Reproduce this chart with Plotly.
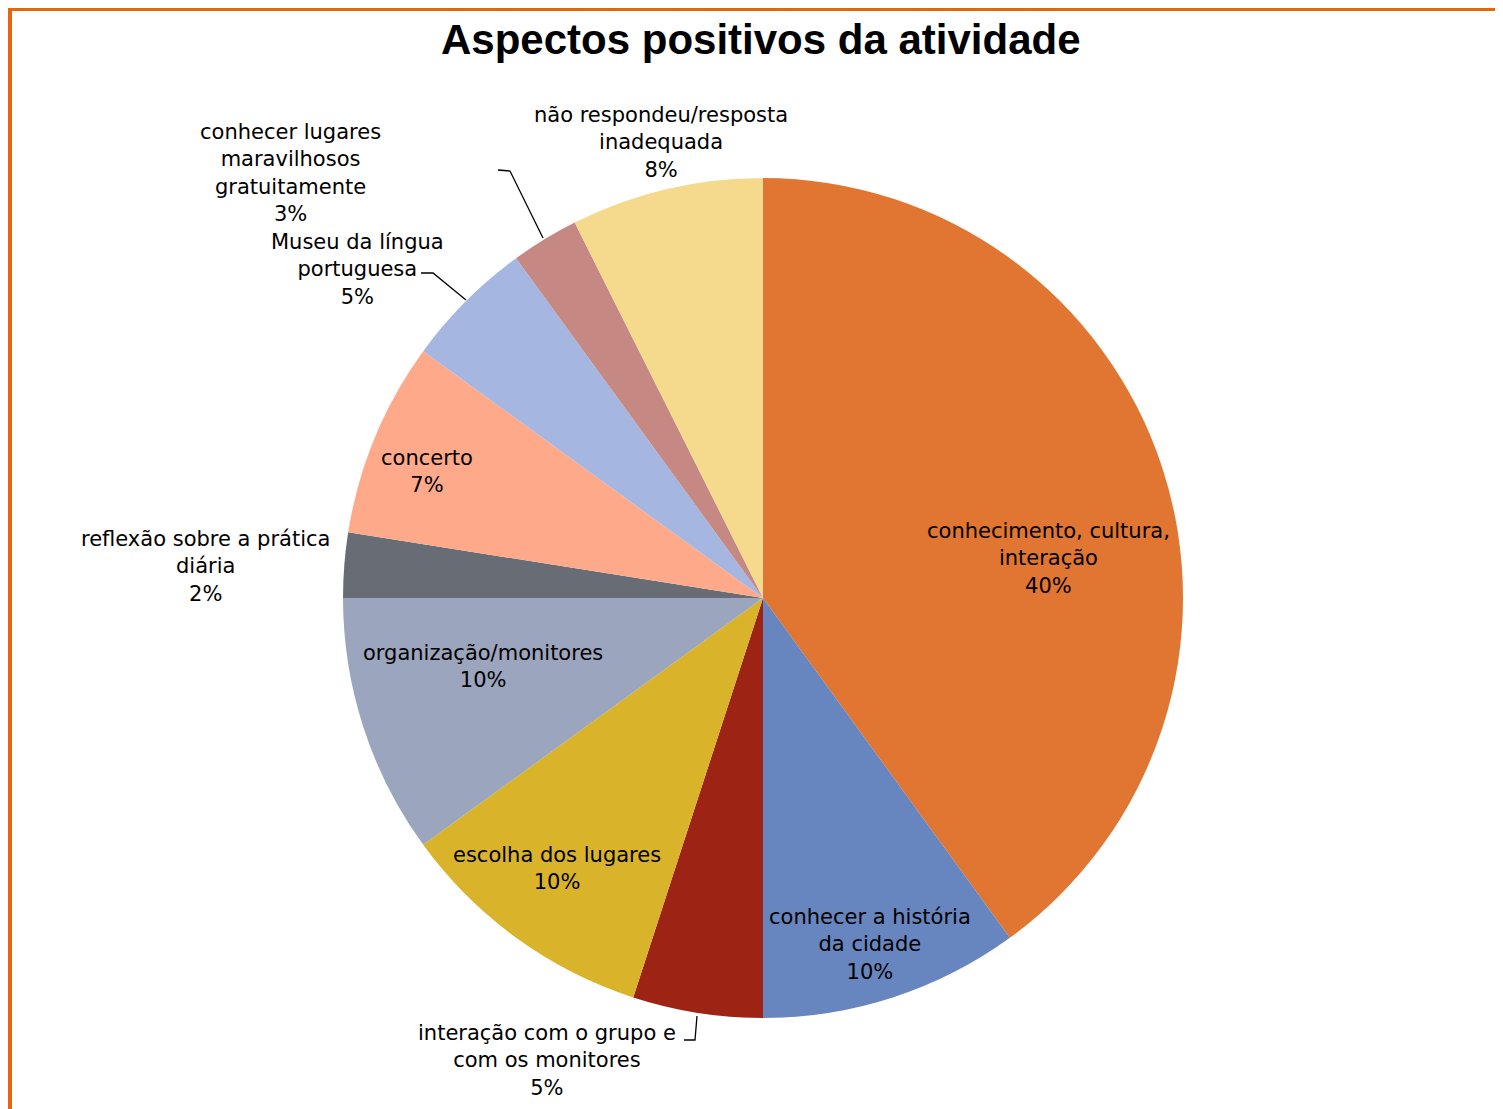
import plotly.graph_objects as go

W, H = 1503, 1109
OFF = 8  # browser body margin

# data (clockwise from 12 o'clock)
categories = [
    "conhecimento, cultura,<br>interação",
    "conhecer a história<br>da cidade",
    "interação com o grupo e<br>com os monitores",
    "escolha dos lugares",
    "organização/monitores",
    "reflexão sobre a prática<br>diária",
    "concerto",
    "Museu da língua<br>portuguesa",
    "conhecer lugares<br>maravilhosos<br>gratuitamente",
    "não respondeu/resposta<br>inadequada",
]
shares = [40, 10, 5, 10, 10, 2.5, 7.5, 5, 2.6, 7.4]
pct_labels = ["40%", "10%", "5%", "10%", "10%", "2%", "7%", "5%", "3%", "8%"]
colors = ["#E07632", "#6785BE", "#9D2314", "#D9B42A", "#9BA5BD",
          "#686C74", "#FEAA8A", "#A5B6E0", "#C58883", "#F5D98C"]

# label centres in pixels (Excel placed these by hand)
label_pos = [(1048, 558), (870, 944), (547, 1060), (557, 868), (483, 666),
             (205, 566), (427, 472), (357, 269), (290, 173), (661, 142)]

FONT = "DejaVu Sans"


def px(x, y):
    return (x - OFF) / W, 1 - (y - OFF) / H


cx, cy, r = 763, 598, 420
x0, y0 = px(cx - r, cy + r)
x1, y1 = px(cx + r, cy - r)

fig = go.Figure(go.Pie(
    labels=[c.replace("<br>", " ") for c in categories],
    values=shares,
    sort=False,
    direction="clockwise",
    rotation=0,
    marker=dict(colors=colors, line=dict(width=0)),
    textinfo="none",
    showlegend=False,
    domain=dict(x=[x0, x1], y=[y0, y1]),
))

annotations = []
for cat, pct, (lx, ly) in zip(categories, pct_labels, label_pos):
    ax, ay = px(lx, ly)
    annotations.append(dict(
        x=ax, y=ay, xref="paper", yref="paper",
        text=cat + "<br>" + pct, showarrow=False,
        xanchor="center", yanchor="middle",
        font=dict(family=FONT, size=21, color="#000000"),
    ))

tx, ty = px(761, 40)
annotations.append(dict(
    x=tx, y=ty, xref="paper", yref="paper",
    text="<b>Aspectos positivos da atividade</b>", showarrow=False,
    xanchor="center", yanchor="middle",
    font=dict(family="Liberation Sans Narrow, Arial Narrow, sans-serif", size=42, color="#000000"),
))

# leader lines
leaders = [
    [(421, 273), (433, 273), (466, 300)],
    [(498, 170), (510, 171), (543, 238)],
    [(684, 1040), (695, 1040), (697, 1016)],
]
shapes = []
for pts in leaders:
    path = "M " + " L ".join("%f,%f" % px(x, y) for x, y in pts)
    shapes.append(dict(type="path", xref="paper", yref="paper", path=path,
                       line=dict(color="#000000", width=1.3)))

# orange frame
bx0, by1 = px(9.5, 8.5)
shapes.append(dict(type="rect", xref="paper", yref="paper",
                   x0=bx0, y0=-0.05, x1=1.05, y1=by1,
                   line=dict(color="#E8650E", width=5)))

fig.update_layout(
    width=W, height=H, autosize=False,
    margin=dict(l=0, r=0, t=0, b=0),
    paper_bgcolor="white", plot_bgcolor="white",
    annotations=annotations, shapes=shapes,
)

fig.write_html("out.html")
